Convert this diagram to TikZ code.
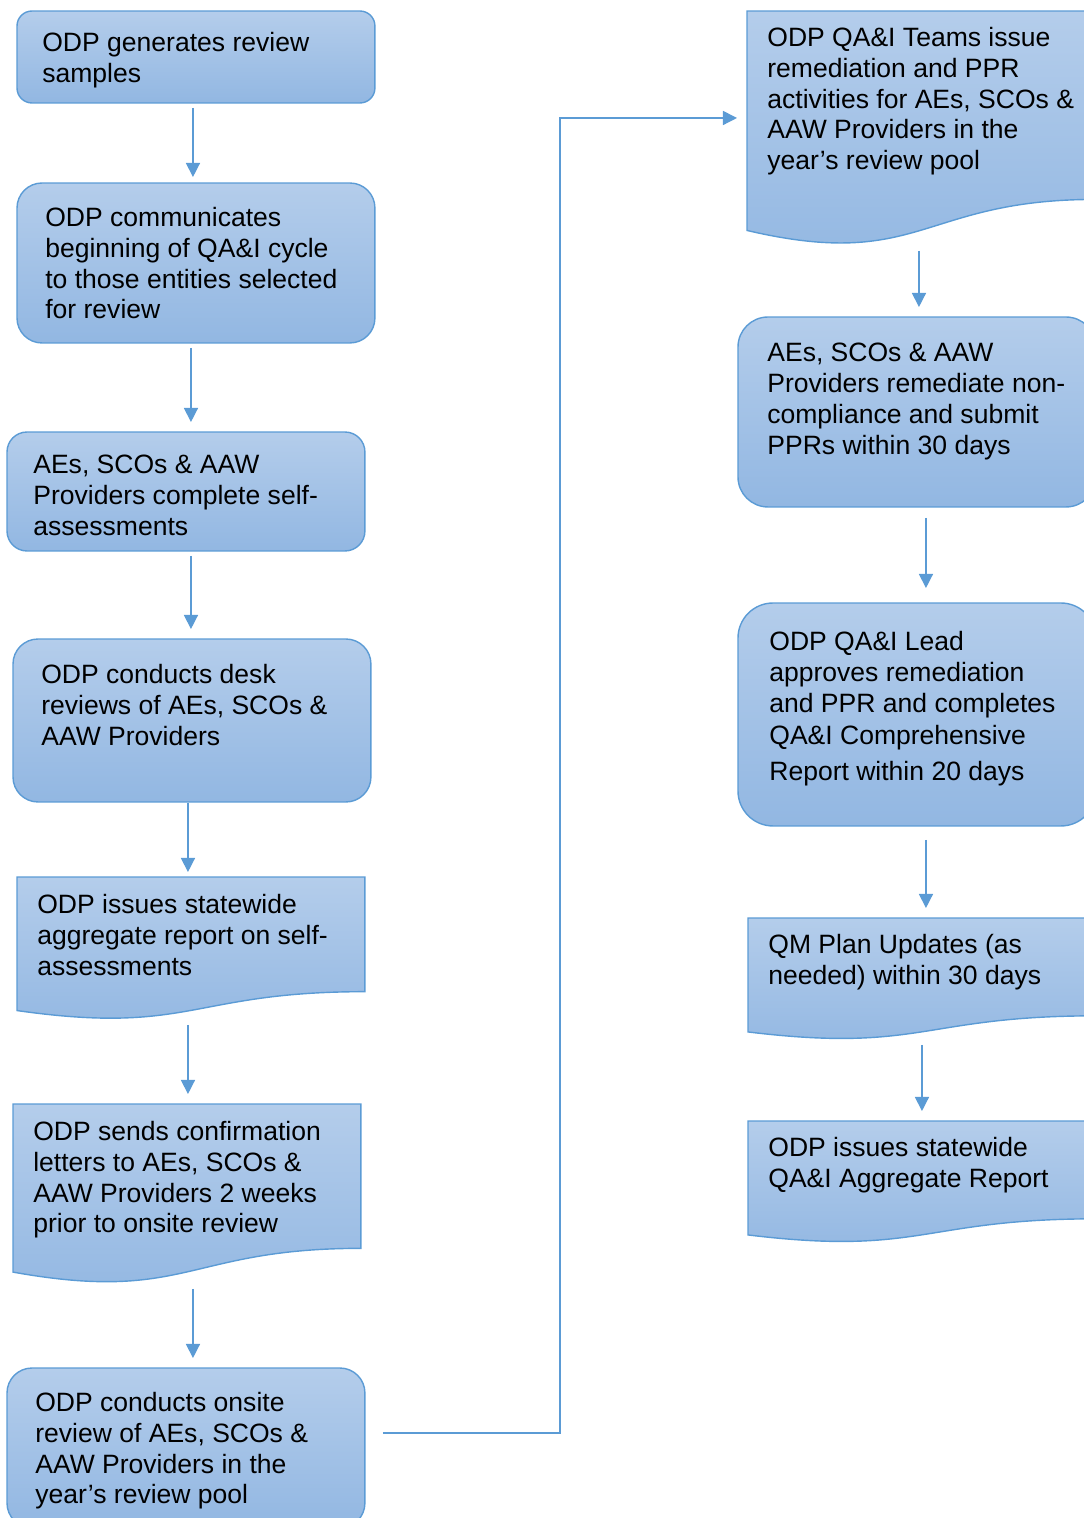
\documentclass[tikz,border=0pt]{standalone}
\usepackage{fontspec}
\setmainfont{Liberation Sans}
\usepackage{tikz}
\usetikzlibrary{calc}
\usetikzlibrary{arrows.meta}
\usetikzlibrary{positioning}
\definecolor{QAFillTop}{RGB}{180,205,235}
\definecolor{QAFillBottom}{RGB}{146,183,226}
\definecolor{QALine}{RGB}{91,155,213}

\tikzset{
	roundbox/.style={rectangle,draw=QALine,line width=0.8pt,top color=QAFillTop,bottom color=QAFillBottom,inner sep=0pt,outer sep=0pt,anchor=north west},
	docbox/.style={rectangle,draw=none,inner sep=0pt,outer sep=0pt,anchor=north west},
	docfill/.style={draw=QALine,line width=0.8pt,top color=QAFillTop,bottom color=QAFillBottom},
	boxtext/.style={anchor=north west,inner sep=0pt,align=left,font=\fontsize{15.1}{17.5}\selectfont},
	flow/.style={draw=QALine,line width=0.8pt,-{Triangle[width=8pt,length=8pt]},shorten <=0.1cm,shorten >=0.2cm}
}

% document shape with wavy bottom edge
\newcommand\docshape[1]{%
	\path[docfill] (#1.north west) -- (#1.north east) -- ($(#1.north east)!0.802!(#1.south east)$)
		.. controls ($(#1.north)!0.802!(#1.south)$) and ($(#1.north)!1.1075!(#1.south)$) .. ($(#1.north west)!0.934!(#1.south west)$) -- cycle;}

\begin{document}
\begin{tikzpicture}[x=0.02cm,y=-0.02cm]
	\useasboundingbox (0,0) rectangle (1084,1518);
	\clip (0,0) rectangle (1084,1518);

	% left column
	\node[roundbox,minimum width=7.16cm,minimum height=1.84cm,rounded corners=0.3cm] (b1) at (17,11) {};
	\node[roundbox,minimum width=7.16cm,minimum height=3.2cm,rounded corners=0.5cm] (b2) at (17,183) {};
	\node[roundbox,minimum width=7.16cm,minimum height=2.38cm,rounded corners=0.4cm] (b3) at (7,432) {};
	\node[roundbox,minimum width=7.16cm,minimum height=3.26cm,rounded corners=0.5cm] (b4) at (13,639) {};
	\node[docbox,minimum width=6.96cm,minimum height=2.86cm] (b5) at (17,877) {};
	\docshape{b5}
	\node[docbox,minimum width=6.96cm,minimum height=3.6cm] (b6) at (13,1104) {};
	\docshape{b6}
	\node[roundbox,minimum width=7.16cm,minimum height=3.2cm,rounded corners=0.5cm] (b7) at (7,1368) {};

	% right column
	\node[docbox,minimum width=6.96cm,minimum height=4.7cm] (b8) at (747,11) {};
	\docshape{b8}
	\node[roundbox,minimum width=7.16cm,minimum height=3.8cm,rounded corners=0.6cm] (b9) at (738,317) {};
	\node[roundbox,minimum width=7.16cm,minimum height=4.46cm,rounded corners=0.7cm] (b10) at (738,603) {};
	\node[docbox,minimum width=6.96cm,minimum height=2.44cm] (b11) at (748,918) {};
	\docshape{b11}
	\node[docbox,minimum width=6.96cm,minimum height=2.44cm] (b12) at (748,1121) {};
	\docshape{b12}

	% texts
	\node[boxtext] (t1) at (42,32) {ODP generates review\\samples};
	\node[boxtext] (t2) at (45,207) {ODP communicates\\beginning of QA\&I cycle\\to those entities selected\\for review};
	\node[boxtext] (t3) at (33,455) {AEs, SCOs \& AAW\\Providers complete self-\\assessments};
	\node[boxtext] (t4) at (41,664) {ODP conducts desk\\reviews of AEs, SCOs \&\\AAW Providers};
	\node[boxtext] (t5) at (37,894) {ODP issues statewide\\aggregate report on self-\\assessments};
	\node[boxtext] (t6) at (33,1121) {ODP sends confirmation\\letters to AEs, SCOs \&\\AAW Providers 2 weeks\\prior to onsite review};
	\node[boxtext] (t7) at (35,1392) {ODP conducts onsite\\review of AEs, SCOs \&\\AAW Providers in the\\year’s review pool};
	\node[boxtext] (t8) at (767,27) {ODP QA\&I Teams issue\\remediation and PPR\\activities for AEs, SCOs \&\\AAW Providers in the\\year’s review pool};
	\node[boxtext] (t9) at (767,343) {AEs, SCOs \& AAW\\Providers remediate non-\\compliance and submit\\PPRs within 30 days};
	\node[boxtext] (t10) at (769,631) {ODP QA\&I Lead\\approves remediation\\and PPR and completes\\[1pt]QA\&I Comprehensive\\[3pt]Report within 20 days};
	\node[boxtext] (t11) at (768,934) {QM Plan Updates (as\\needed) within 30 days};
	\node[boxtext] (t12) at (768,1137) {ODP issues statewide\\QA\&I Aggregate Report};

	% connectors
	\draw[flow,shorten >=0.12cm] ([xshift=-0.06cm]b1.south) -- ([xshift=-0.06cm]b1.south |- b2.north);
	\draw[flow] ([xshift=-0.1cm]b2.south) -- ([xshift=-0.1cm]b2.south |- b3.north);
	\draw[flow] ([xshift=0.1cm]b3.south) -- ([xshift=0.1cm]b3.south |- b4.north);
	\draw[flow,shorten <=0.02cm,shorten >=0.1cm] ([xshift=-0.08cm]b4.south) -- ([xshift=-0.08cm]b4.south |- b5.north);
	\draw[flow] ([xshift=-0.06cm]b5.south) -- ([xshift=-0.06cm]b5.south |- b6.north);
	\draw[flow] ([xshift=0.12cm]b6.south) -- ([xshift=0.12cm]b6.south |- b7.north);
	\coordinate (bend) at (560,800);
	\draw[flow,shorten <=0.36cm] ([yshift=0.3cm]b7.east) -| (bend) |- ([yshift=0.21cm]b8.west);
	\draw[flow] ([xshift=-0.04cm]b8.south) -- ([xshift=-0.04cm]b8.south |- b9.north);
	\draw[flow,shorten <=0.22cm,shorten >=0.3cm] ([xshift=0.18cm]b9.south) -- ([xshift=0.18cm]b9.south |- b10.north);
	\draw[flow,shorten <=0.28cm] ([xshift=0.18cm]b10.south) -- ([xshift=0.18cm]b10.south |- b11.north);
	\draw[flow] ([xshift=0cm]b11.south) -- ([xshift=0cm]b11.south |- b12.north);
\end{tikzpicture}
\end{document}
